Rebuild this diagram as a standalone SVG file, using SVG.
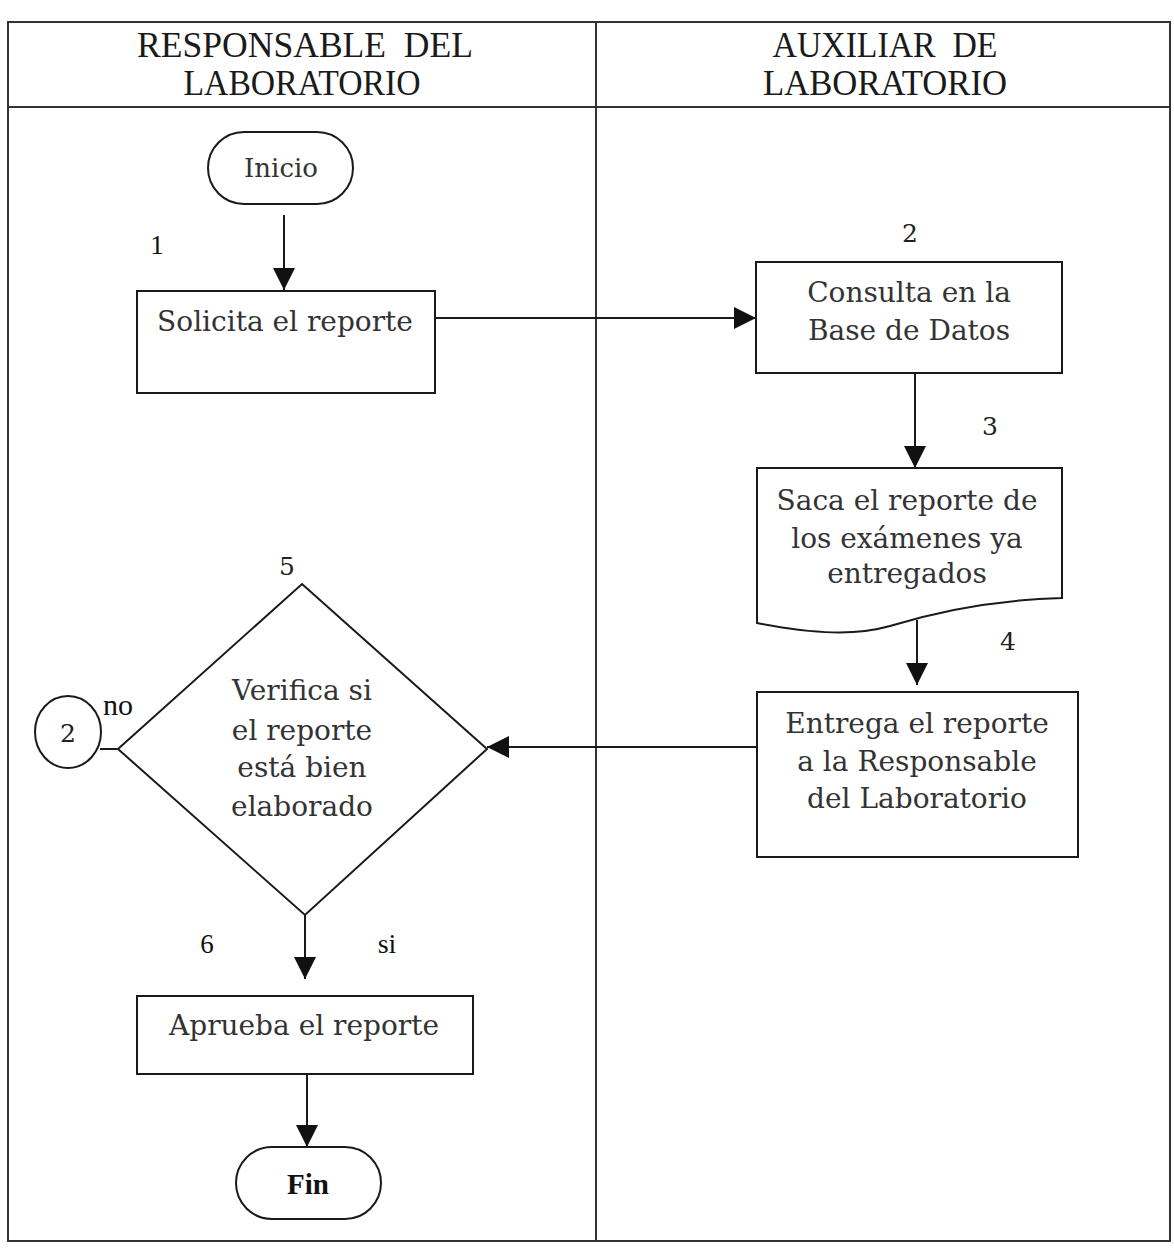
<svg xmlns="http://www.w3.org/2000/svg" width="1174" height="1248" viewBox="0 0 1174 1248">
<style>
.ln{fill:none;stroke:#1a1a1a;stroke-width:2}
.sh{fill:#fff;stroke:#1a1a1a;stroke-width:2}
.t{font-family:"DejaVu Serif","Liberation Serif",serif;font-size:28px;fill:#333;text-anchor:middle}
.n{font-family:"Liberation Serif","DejaVu Serif",serif;font-size:28px;fill:#111;text-anchor:middle}
.d{font-family:"DejaVu Serif","Liberation Serif",serif;font-size:25px;fill:#222;text-anchor:middle}
.h{font-family:"Liberation Serif",serif;font-size:36px;fill:#1a1a1a;text-anchor:middle}
.frame{fill:none;stroke:#333;stroke-width:2}
</style>
<defs>
<marker id="ah" viewBox="0 0 22 22" refX="22" refY="11" markerWidth="22" markerHeight="22" orient="auto" markerUnits="userSpaceOnUse"><path d="M0,0 L22,11 L0,22 Z" fill="#111"/></marker>
</defs>
<rect width="1174" height="1248" fill="#fff"/>
<g id="table">
<rect class="frame" x="8" y="22" width="1162" height="1219"/>
<line class="frame" x1="8" y1="107" x2="1170" y2="107"/>
<line class="frame" x1="596" y1="22" x2="596" y2="1241"/>
<text class="h" x="305" y="57" textLength="336" lengthAdjust="spacingAndGlyphs" xml:space="preserve">RESPONSABLE  DEL</text>
<text class="h" x="302" y="95" textLength="237" lengthAdjust="spacingAndGlyphs">LABORATORIO</text>
<text class="h" x="885" y="57" textLength="225" lengthAdjust="spacingAndGlyphs" xml:space="preserve">AUXILIAR  DE</text>
<text class="h" x="885" y="95" textLength="244" lengthAdjust="spacingAndGlyphs">LABORATORIO</text>
</g>
<g id="connectors">
<path class="ln" d="M284,215 V290" marker-end="url(#ah)"/>
<path class="ln" d="M435,318 H756" marker-end="url(#ah)"/>
<path class="ln" d="M915,373 V468" marker-end="url(#ah)"/>
<path class="ln" d="M917,620 V685" marker-end="url(#ah)"/>
<path class="ln" d="M757,747 H487" marker-end="url(#ah)"/>
<path class="ln" d="M118,749 H100"/>
<path class="ln" d="M305,915 V979" marker-end="url(#ah)"/>
<path class="ln" d="M307,1074 V1147" marker-end="url(#ah)"/>
<text class="d" x="990" y="435">3</text>
<text class="d" x="1008" y="650">4</text>
<text class="n" x="207" y="953" style="font-size:27px">6</text>
<text class="n" x="387" y="953" style="font-size:28px">si</text>
<text class="n" x="118" y="715" style="font-size:30px">no</text>
</g>
<g id="inicio">
<rect class="sh" x="208" y="132" width="145" height="72" rx="36" ry="36"/>
<text class="t" x="281" y="177" style="font-size:26px">Inicio</text>
</g>
<g id="solicita">
<rect class="sh" x="137" y="291" width="298" height="102"/>
<text class="t" x="285" y="331">Solicita el reporte</text>
<text class="n" x="157" y="254" style="font-size:27px">1</text>
</g>
<g id="consulta">
<rect class="sh" x="756" y="262" width="306" height="111"/>
<text class="t" x="909" y="302">Consulta en la</text>
<text class="t" x="909" y="340">Base de Datos</text>
<text class="d" x="910" y="242">2</text>
</g>
<g id="saca">
<path class="sh" d="M757,468 H1062 V598 C990,600 935,612 890,626 C855,636 815,634 757,623 Z"/>
<text class="t" x="907" y="510">Saca el reporte de</text>
<text class="t" x="907" y="548">los exámenes ya</text>
<text class="t" x="907" y="583">entregados</text>
</g>
<g id="entrega">
<rect class="sh" x="757" y="692" width="321" height="165"/>
<text class="t" x="917" y="733">Entrega el reporte</text>
<text class="t" x="917" y="771">a la Responsable</text>
<text class="t" x="917" y="808">del Laboratorio</text>
</g>
<g id="verifica">
<polygon class="sh" points="302,584 487,749 305,915 118,749"/>
<text class="t" x="302" y="700">Verifica si</text>
<text class="t" x="302" y="740">el reporte</text>
<text class="t" x="302" y="777">está bien</text>
<text class="t" x="302" y="816">elaborado</text>
<text class="d" x="287" y="575">5</text>
</g>
<g id="conector2">
<ellipse class="sh" cx="68" cy="732" rx="33" ry="36"/>
<text class="d" x="68" y="742">2</text>
</g>
<g id="aprueba">
<rect class="sh" x="137" y="996" width="336" height="78"/>
<text class="t" x="304" y="1035">Aprueba el reporte</text>
</g>
<g id="fin">
<rect class="sh" x="236" y="1147" width="145" height="72" rx="36" ry="36"/>
<text class="n" x="308" y="1194" style="font-size:29px;font-weight:bold">Fin</text>
</g>
</svg>
